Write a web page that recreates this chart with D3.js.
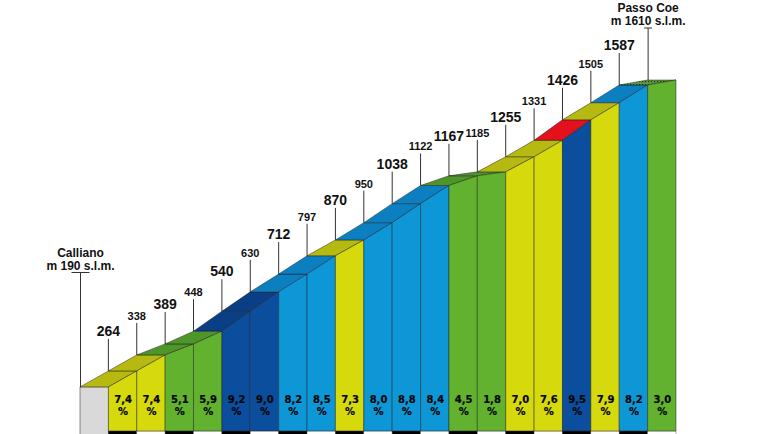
<!DOCTYPE html>
<html>
<head>
<meta charset="utf-8">
<script src="https://cdn.jsdelivr.net/npm/d3@7"></script>
<style>
  html, body { margin: 0; padding: 0; background: #fff; }
  svg { display: block; }
</style>
</head>
<body>
<div id="chart"></div>
<script>
// ---------- data ----------
const elevations = [190, 264, 338, 389, 448, 540, 630, 712, 797, 870, 950, 1038, 1122, 1167, 1185, 1255, 1331, 1426, 1505, 1587, 1610];
const gradients = [7.4, 7.4, 5.1, 5.9, 9.2, 9.0, 8.2, 8.5, 7.3, 8.0, 8.8, 8.4, 4.5, 1.8, 7.0, 7.6, 9.5, 7.9, 8.2, 3.0];
const startLabel = ["Calliano", "m 190 s.l.m."];
const endLabel = ["Passo Coe", "m 1610 s.l.m."];

// ---------- setup ----------
const W = 770, H = 434;
const svg = d3.select("#chart").append("svg").attr("width", W).attr("height", H);
svg.append("rect").attr("width", W).attr("height", H).attr("fill", "#fff");

const nCols = elevations.length; // gray start column + one per segment
const x = d3.scaleLinear().domain([0, nCols]).range([80, 676]);
const y = d3.scaleLinear().domain([0, 1610]).range([428, 80]);
const baseY = 431;

const frontColor = d3.scaleThreshold().domain([7, 8, 9])
  .range(["#62b22f", "#d6d90c", "#0e97d7", "#0b4e9d"]);
const topColor = d3.scaleThreshold().domain([7, 8, 9])
  .range(["#4e952a", "#b6b90f", "#0c7fc1", "#0a3f86"]);
const maxGrade = d3.max(gradients);

const fmt = d3.formatLocale({decimal: ",", thousands: ".", grouping: [3], currency: ["", ""]}).format(".1f");

const defs = svg.append("defs");
const pat = defs.append("pattern").attr("id", "flat").attr("patternUnits", "userSpaceOnUse")
  .attr("width", 3).attr("height", 3);
pat.append("rect").attr("width", 3).attr("height", 3).attr("fill", "#5e9a3a");
pat.append("rect").attr("width", 1.2).attr("height", 1.2).attr("fill", "#1f3a14");

const edge = "rgba(25,25,25,0.65)";
const line = d3.line();

// gray start column
svg.append("rect")
  .attr("x", x(0)).attr("y", y(elevations[0]))
  .attr("width", x(1) - x(0)).attr("height", 440 - y(elevations[0]))
  .attr("fill", "#d9d9d9").attr("stroke", edge).attr("stroke-width", 0.7);

// bottom km strip
const g = svg.append("g");
gradients.forEach((gr, i) => {
  const k = i + 1;
  g.append("rect")
    .attr("x", x(k)).attr("y", baseY)
    .attr("width", x(k + 1) - x(k)).attr("height", 10)
    .attr("fill", k % 2 === 1 ? "#000" : "#fff")
    .attr("stroke", "rgba(60,60,60,0.6)").attr("stroke-width", 0.6);
});

// segments
gradients.forEach((gr, i) => {
  const k = i + 1;
  const y0 = y(elevations[k - 1]), y1 = y(elevations[k]);
  let tFill = topColor(gr);
  if (gr === maxGrade) tFill = "#e3111b";
  if (k === gradients.length) tFill = "url(#flat)";
  // top face
  svg.append("path")
    .attr("d", line([[x(k - 1), y0], [x(k), y0], [x(k + 1), y1], [x(k), y1]]) + "Z")
    .attr("fill", tFill).attr("stroke", edge).attr("stroke-width", 0.7).attr("stroke-linejoin", "round");
  // front face
  svg.append("path")
    .attr("d", line([[x(k), y0], [x(k + 1), y1], [x(k + 1), baseY], [x(k), baseY]]) + "Z")
    .attr("fill", frontColor(gr)).attr("stroke", edge).attr("stroke-width", 0.7);
  // gradient labels
  const cx = (x(k) + x(k + 1)) / 2;
  const tg = svg.append("g").attr("font-family", "DejaVu Sans, sans-serif")
    .attr("font-weight", "bold").attr("font-size", 10).attr("fill", "#050505")
    .attr("stroke", "#050505").attr("stroke-width", 0.2)
    .attr("text-anchor", "middle");
  tg.append("text").attr("x", cx + 0.5).attr("y", 403).text(fmt(gr));
  tg.append("text").attr("x", cx + 0.5).attr("y", 414.5).text("%");
});

// elevation labels with leader lines
elevations.forEach((e, k) => {
  if (k === 0 || k === elevations.length - 1) return;
  const px = x(k), py = y(e);
  svg.append("line").attr("x1", px).attr("x2", px).attr("y1", py).attr("y2", py - 32)
    .attr("stroke", "#333").attr("stroke-width", 1);
  const big = k % 2 === 1;
  svg.append("text").attr("x", px).attr("y", py - 35)
    .attr("text-anchor", "middle")
    .attr("font-family", "Liberation Sans, Arial, sans-serif").attr("font-weight", "bold")
    .attr("font-size", big ? 14 : 11).attr("fill", "#111")
    .text(e);
});

// start and end labels
function endpoint(k, e, lines, topY, capW) {
  const px = x(k) + 0.5;
  svg.append("line").attr("x1", px).attr("x2", px).attr("y1", y(e)).attr("y2", topY)
    .attr("stroke", "#333").attr("stroke-width", 1);
  svg.append("line").attr("x1", px - capW / 2).attr("x2", px + capW / 2).attr("y1", topY).attr("y2", topY)
    .attr("stroke", "#333").attr("stroke-width", 1);
  const t = svg.append("text").attr("text-anchor", "middle")
    .attr("font-family", "Liberation Sans, Arial, sans-serif").attr("font-weight", "bold")
    .attr("font-size", 12).attr("fill", "#111");
  t.append("tspan").attr("x", px).attr("y", topY - 16).text(lines[0]);
  t.append("tspan").attr("x", px).attr("y", topY - 3).text(lines[1]);
}
endpoint(0, elevations[0], startLabel, 272.5, 18);
endpoint(elevations.length - 1, elevations[elevations.length - 1], endLabel, 28, 8);
</script>
</body>
</html>
